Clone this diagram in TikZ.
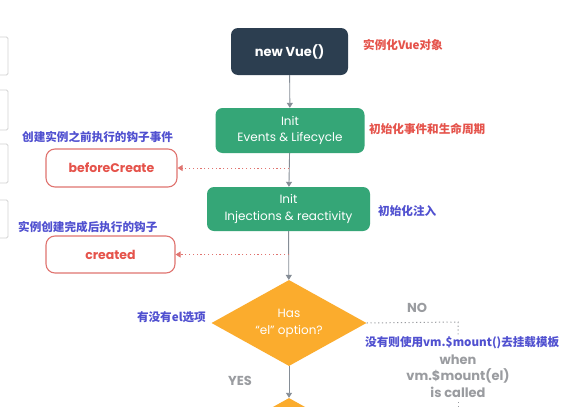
\documentclass[tikz,border=0pt]{standalone}
\usepackage{fontspec}
\setmainfont{Poppins}
\newfontfamily\cjk{Noto Sans CJK SC}
\usetikzlibrary{shapes.geometric,arrows.meta}
\definecolor{navy}{HTML}{2C3E50}
\definecolor{vgreen}{HTML}{35A677}
\definecolor{vorange}{HTML}{FBAC2D}
\definecolor{redtxt}{HTML}{E5534B}
\definecolor{redbox}{HTML}{E07470}
\definecolor{bluetxt}{HTML}{5050D0}
\definecolor{arrowgray}{HTML}{858D96}
\definecolor{graytxt}{HTML}{9A9CA0}
\definecolor{framegray}{HTML}{D4D4D4}
\tikzset{
  navybox/.style={draw=none, fill=navy, rounded corners=7pt, text=white,
    font=\fontsize{13}{16}\selectfont\bfseries, align=center, inner sep=0pt},
  greenbox/.style={draw=none, fill=vgreen, rounded corners=7pt, text=white,
    font=\fontsize{12}{16.5}\selectfont, align=center, inner sep=0pt},
  hookbox/.style={draw=redbox, line width=1.1pt, fill=white, rounded corners=9pt,
    text=redtxt, font=\fontsize{12.5}{15}\selectfont\bfseries, inner sep=0pt},
  decision/.style={diamond, aspect=1.8, fill=vorange, draw=none, inner sep=0pt,
    minimum width=155pt, minimum height=86pt, text=white,
    font=\fontsize{12}{17}\selectfont, align=center},
  flow/.style={draw=arrowgray, line width=0.9pt, -{Triangle[width=6pt,length=5pt]}},
  hookline/.style={draw=redbox, line width=1pt, dash pattern=on 1.2pt off 2.6pt,
    -{Triangle[width=6pt,length=5pt]}},
  noline/.style={draw=graytxt, line width=1pt, dash pattern=on 1.2pt off 2.6pt},
  rednote/.style={text=redtxt, font=\cjk\fontsize{11.6}{13}\selectfont\bfseries, inner sep=0pt},
  bluenote/.style={text=bluetxt, font=\cjk\fontsize{11.6}{13}\selectfont\bfseries, inner sep=0pt},
  graylabel/.style={text=graytxt, font=\fontsize{13}{16.5}\selectfont\bfseries, align=center, inner sep=0pt},
  sideframe/.style={draw=framegray, line width=0.8pt, fill=white, rounded corners=1.5pt}
}
\begin{document}
\begin{tikzpicture}[x=1pt,y=-1pt]
\useasboundingbox (0,0) rectangle (584,407);
\clip (0,0) rectangle (584,407);
\fill[white] (0,0) rectangle (584,407);

% partial frames at the left edge
\draw[sideframe] (-6,37) rectangle (8,75);
\draw[sideframe] (-6,90) rectangle (8,130);
\draw[sideframe] (-6,144) rectangle (8,183);
\draw[sideframe] (-6,200) rectangle (8,238);

% main column
\node[navybox, minimum width=117pt, minimum height=47pt] (vue) at (289.5,51.5) {new Vue()};
\node[greenbox, minimum width=149pt, minimum height=45pt] (ev) at (290,130.5) {Init\\Events \& Lifecycle};
\node[greenbox, minimum width=163pt, minimum height=44pt] (inj) at (288.5,209) {Init\\Injections \& reactivity};
\node[decision] (dia) at (289,323) {Has\\“el” option?};
\node[decision] (dia2) at (289,441) {};

% hooks
\node[hookbox, minimum width=131pt, minimum height=38pt] (bc) at (111.5,168) {beforeCreate};
\node[hookbox, minimum width=129pt, minimum height=37pt] (cr) at (110.5,254.5) {created};

% connectors
\draw[flow] (vue) -- (ev);
\draw[flow] (ev) -- (inj);
\draw[flow] (inj) -- (dia);
\draw[flow] (dia) -- (dia2);

\coordinate (h1) at (289,168);
\coordinate (h2) at (289,254.5);
\draw[hookline] (h1) -- (bc.east);
\draw[hookline] (h2) -- (cr.east);

\coordinate (n1) at (458,322);
\coordinate (n2) at (458,337);
\coordinate (n3) at (458,402);
\coordinate (n4) at (458,412);
\draw[noline] (dia.east) -- (n1) -- (n2);
\draw[noline] (n3) -- (n4);

% notes
\node[rednote, anchor=west] (t1) at (363,45) {实例化Vue对象};
\node[rednote, anchor=west] (t2) at (369,129) {初始化事件和生命周期};
\node[bluenote, anchor=west] (t3) at (378,211) {初始化注入};
\node[bluenote, anchor=west] (t4) at (22,137) {创建实例之前执行的钩子事件};
\node[bluenote, anchor=west] (t5) at (18,227) {实例创建完成后执行的钩子};
\node[bluenote, anchor=east] (t6) at (206,317) {有没有el选项};
\node[bluenote, anchor=west] (t7) at (365,343) {没有则使用vm.\$mount()去挂载模板};

\node[graylabel] (no) at (417,308) {NO};
\node[graylabel] (yes) at (240,381) {YES};
\node[graylabel] (when) at (458,376) {when\\vm.\$mount(el)\\is called};
\end{tikzpicture}
\end{document}
